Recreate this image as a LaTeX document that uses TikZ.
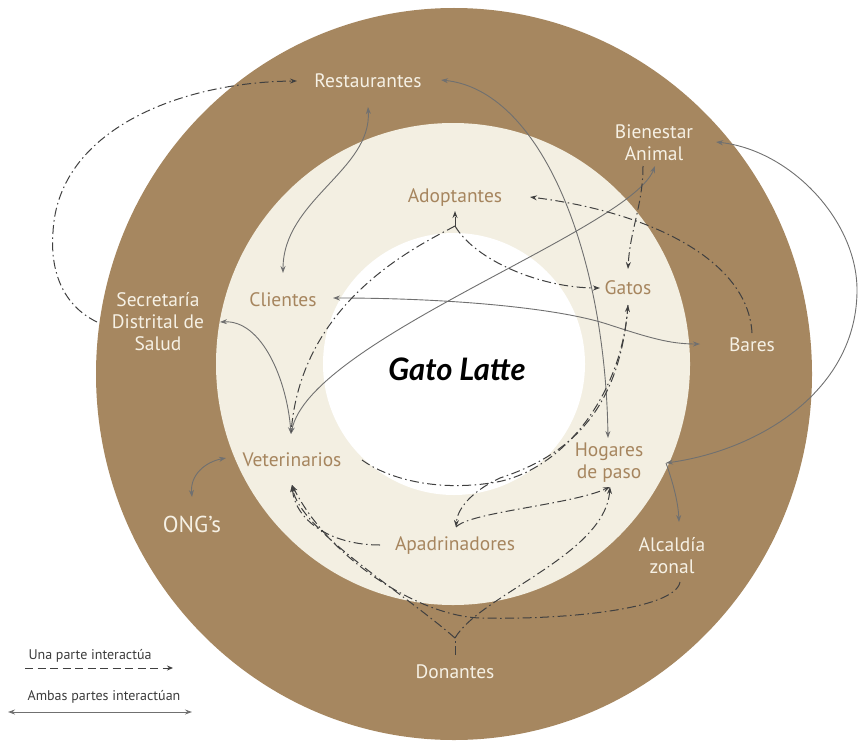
\documentclass[tikz,border=0pt]{standalone}
\usepackage{fontspec}
\setmainfont{PT Sans}
\newfontfamily\titlefont{Lato}
\usetikzlibrary{arrows.meta}

\definecolor{ringbrown}{RGB}{166,135,96}
\definecolor{ringbeige}{RGB}{243,239,226}
\definecolor{lighttext}{RGB}{246,241,229}
\definecolor{tantext}{RGB}{166,133,94}
\definecolor{linegrey}{RGB}{112,112,112}
\definecolor{dashgrey}{RGB}{64,64,64}
\definecolor{legendtext}{RGB}{60,60,60}

\tikzset{
  outerlabel/.style={text=lighttext, font=\fontsize{19.5}{22}\selectfont, align=center, inner sep=1pt},
  innerlabel/.style={text=tantext, font=\fontsize{19.5}{22}\selectfont, align=center, inner sep=1pt},
  legendlabel/.style={text=legendtext, font=\fontsize{14}{16}\selectfont, inner sep=1pt},
  twoway/.style={draw=linegrey, line width=0.9pt, {Stealth[length=7pt,width=5pt]}-{Stealth[length=7pt,width=5pt]}},
  oneway/.style={draw=dashgrey, line width=1pt, dash pattern=on 9pt off 3.5pt on 1.5pt off 3.5pt, -{Stealth[length=7pt,width=5pt]}},
  plaindash/.style={draw=dashgrey, line width=1pt, dash pattern=on 9pt off 3.5pt on 1.5pt off 3.5pt},
}

\begin{document}
\begin{tikzpicture}[x=1pt,y=-1pt]
\useasboundingbox (0,0) rectangle (858,741);

% concentric rings
\fill[ringbrown] (454,374) ellipse [x radius=358, y radius=366];
\fill[ringbeige] (453,364) ellipse [x radius=237, y radius=241];
\fill[white] (454,364) circle [radius=131];

% actors
\node[outerlabel] (rest) at (368,81) {Restaurantes};
\node[outerlabel] (bien) at (654,143) {Bienestar\\Animal};
\node[innerlabel] (adop) at (455,198) {Adoptantes};
\node[innerlabel] (cli) at (283,300) {Clientes};
\node[innerlabel] (gatos) at (628,288) {Gatos};
\node[outerlabel] (sec) at (158,322) {Secretaría\\Distrital de\\Salud};
\node[outerlabel] (bares) at (752,345) {Bares};
\node[font=\titlefont\bfseries\itshape\fontsize{31}{36}\selectfont] (gl) at (457,369) {Gato Latte};
\node[innerlabel] (vet) at (292,460) {Veterinarios};
\node[innerlabel] (hog) at (609,463) {Hogares\\de paso};
\node[outerlabel, font=\fontsize{23}{26}\selectfont] (ong) at (192,524) {ONG’s};
\node[innerlabel] (apa) at (455,546) {Apadrinadores};
\node[outerlabel] (alc) at (672,556) {Alcaldía\\zonal};
\node[outerlabel] (don) at (455,672) {Donantes};

% connector ports
\coordinate (rest-s) at (368,107);
\coordinate (rest-e) at (441,80);
\coordinate (rest-w) at (297,81);
\coordinate (cli-n) at (283,273);
\coordinate (cli-e) at (333,298);
\coordinate (sec-e) at (220,322);
\coordinate (sec-w) at (97,322);
\coordinate (vet-n) at (291,434);
\coordinate (vet-w) at (226,458);
\coordinate (vet-e) at (362,460);
\coordinate (vet-s) at (292,485);
\coordinate (bien-s) at (655,166);
\coordinate (bien-sd) at (643,166);
\coordinate (bien-e) at (716,142);
\coordinate (adop-s) at (455,211);
\coordinate (adop-e) at (530,197);
\coordinate (adop-fork) at (455,226);
\coordinate (gatos-w) at (600,288);
\coordinate (gatos-n) at (628,269);
\coordinate (gatos-s) at (628,305);
\coordinate (bares-n) at (752,333);
\coordinate (bares-w) at (700,344);
\coordinate (hog-n) at (608,438);
\coordinate (hog-s) at (610,487);
\coordinate (hog-e) at (666,463);
\coordinate (ong-n) at (192,497);
\coordinate (apa-n) at (456,527);
\coordinate (apa-w) at (380,545);
\coordinate (alc-n) at (679,522);
\coordinate (alc-s) at (680,582);
\coordinate (don-n) at (455,655);
\coordinate (don-fork) at (455,638);
\coordinate (far-right) at (857,290);
\coordinate (far-left) at (53,232);
\coordinate (under-core) at (497,482);
\coordinate (bottom-pass) at (480,618);

% both parties interact
\draw[twoway] (rest-s) .. controls (372,170) and (283,200) .. (cli-n);
\draw[twoway] (rest-e) .. controls (540,90) and (605,250) .. (hog-n);
\draw[twoway] (cli-e) .. controls (450,298) and (560,308) .. (610,325)
                      .. controls (650,338) and (670,344) .. (bares-w);
\draw[twoway] (sec-e) .. controls (262,320) and (287,380) .. (vet-n);
\draw[twoway] (vet-n) .. controls (310,340) and (630,230) .. (bien-s);
\draw[twoway] (vet-w) .. controls (205,462) and (190,475) .. (ong-n);
\draw[twoway] (bien-e) .. controls (790,150) and (857,220) .. (far-right)
                       .. controls (857,390) and (760,450) .. (hog-e);
\draw[twoway, {-Stealth[length=7pt,width=5pt]}] (hog-e) .. controls (672,480) and (678,500) .. (alc-n);

% one party interacts
\draw[oneway] (sec-w) .. controls (62,305) and (50,270) .. (far-left)
                      .. controls (58,130) and (180,82) .. (rest-w);
\draw[oneway] (adop-fork) -- (adop-s);
\draw[plaindash] (adop-fork) .. controls (420,245) and (300,300) .. (vet-n);
\draw[oneway] (adop-fork) .. controls (475,260) and (540,288) .. (gatos-w);
\draw[oneway] (bares-n) .. controls (748,260) and (650,212) .. (adop-e);
\draw[oneway] (bien-sd) .. controls (643,205) and (630,230) .. (gatos-n);
\draw[oneway] (vet-e) .. controls (390,480) and (440,492) .. (under-core)
                      .. controls (560,470) and (620,400) .. (gatos-s);
\draw[oneway] (gatos-s) .. controls (620,410) and (570,455) .. (500,478)
                        .. controls (470,492) and (457,510) .. (apa-n);
\draw[oneway] (apa-n) .. controls (470,512) and (570,505) .. (hog-s);
\draw[oneway] (apa-w) .. controls (330,545) and (295,520) .. (vet-s);
\draw[plaindash] (don-n) -- (don-fork);
\draw[oneway] (don-fork) .. controls (400,590) and (300,530) .. (vet-s);
\draw[oneway] (don-fork) .. controls (480,595) and (605,555) .. (hog-s);
\draw[oneway] (alc-s) .. controls (675,610) and (560,620) .. (bottom-pass)
                      .. controls (420,616) and (330,560) .. (vet-s);

% legend
\node[legendlabel] (leg-one) at (90,656) {Una parte interactúa};
\coordinate (leg-one-a) at (25,668);
\coordinate (leg-one-b) at (173,668);
\draw[draw=dashgrey, line width=1pt, dash pattern=on 8pt off 4.5pt, -{Stealth[length=6pt,width=5pt]}] (leg-one-a) -- (leg-one-b);
\node[legendlabel] (leg-two) at (104,697) {Ambas partes interactúan};
\coordinate (leg-two-a) at (8,712);
\coordinate (leg-two-b) at (192,712);
\draw[twoway] (leg-two-a) -- (leg-two-b);
\end{tikzpicture}
\end{document}
